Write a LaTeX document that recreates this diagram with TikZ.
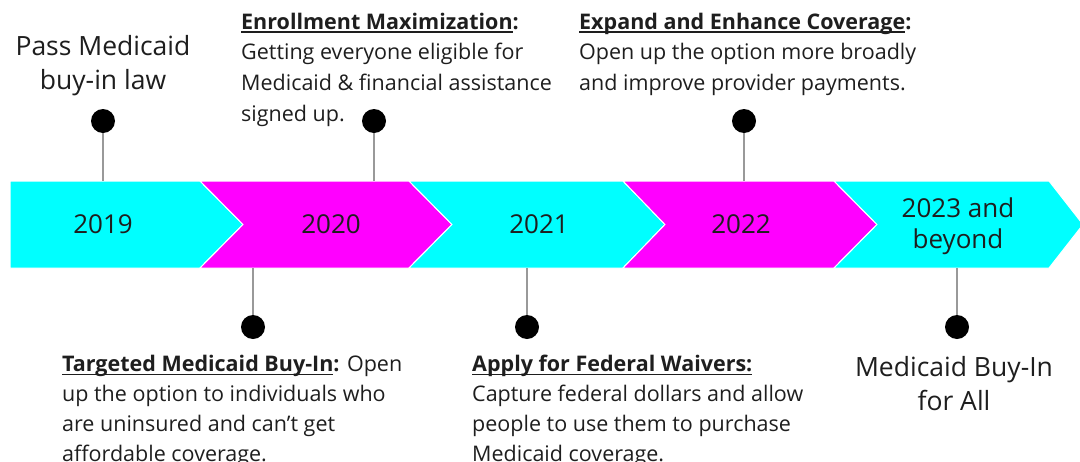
\documentclass[tikz,border=0pt]{standalone}
\usepackage{fontspec}
\setmainfont{Open Sans}
\definecolor{cy}{HTML}{00FFFF}
\definecolor{mg}{HTML}{FF00FF}
\definecolor{txt}{HTML}{1E1E1E}
\newcommand\myul[1]{\setbox0\hbox{#1}\rlap{\rule[-3.5pt]{\wd0}{1.5pt}}\box0}
\tikzset{
  seg/.style={draw=white, line width=1pt, line join=miter},
  dot/.style={circle, fill=black, minimum size=24pt, inner sep=0pt},
  stem/.style={draw=black!40, line width=1.2pt},
  year/.style={font=\fontsize{26}{31}\selectfont, text=txt, align=center, inner sep=0pt},
  big/.style={font=\fontsize{26.5}{34}\selectfont, text=txt, align=center, inner sep=0pt},
  desc/.style={font=\fontsize{21.5}{30.8}\selectfont, text=txt, align=left, inner sep=0pt, anchor=north west},
  descb/.style={desc, font=\fontsize{21.5}{30}\selectfont},
}
\begin{document}
\begin{tikzpicture}[x=1pt,y=-1pt]
\useasboundingbox (0,0) rectangle (1080,461);
\clip (0,0) rectangle (1080,461);
% band
\fill[cy, seg] (10,181) -- (200,181) -- (243,224.5) -- (200,268) -- (10,268) -- cycle;
\fill[mg, seg] (200,181) -- (409,181) -- (452,224.5) -- (409,268) -- (200,268) -- (243,224.5) -- cycle;
\fill[cy, seg] (409,181) -- (623,181) -- (665,224.5) -- (623,268) -- (409,268) -- (452,224.5) -- cycle;
\fill[mg, seg] (623,181) -- (834,181) -- (877,224.5) -- (834,268) -- (623,268) -- (665,224.5) -- cycle;
\fill[cy, seg] (834,181) -- (1049,181) -- (1083,224.5) -- (1049,268) -- (834,268) -- (877,224.5) -- cycle;
% years
\node[year] (y19) at (103,224.5) {2019};
\node[year] (y20) at (331,224.5) {2020};
\node[year] (y21) at (539,224.5) {2021};
\node[year] (y22) at (741,224.5) {2022};
\node[year] (y23) at (958,226) {2023 and\\beyond};
% attachment points on band
\coordinate (t1) at (103,181);
\coordinate (t2) at (374,181);
\coordinate (t3) at (744,181);
\coordinate (b1) at (253,268);
\coordinate (b2) at (527,268);
\coordinate (b3) at (957,268);
% dots
\node[dot] (d1) at (103,121) {};
\node[dot] (d2) at (374,121) {};
\node[dot] (d3) at (744,121) {};
\node[dot] (d4) at (253,327) {};
\node[dot] (d5) at (527,327) {};
\node[dot] (d6) at (957,327) {};
\draw[stem] (d1) -- (t1);
\draw[stem] (d2) -- (t2);
\draw[stem] (d3) -- (t3);
\draw[stem] (d4) -- (b1);
\draw[stem] (d5) -- (b2);
\draw[stem] (d6) -- (b3);
% labels
\node[big] (l1) at (103,66) {Pass Medicaid\\buy-in law};
\node[big] (l6) at (954,384) {Medicaid Buy-In\\for All};
\node[desc] (l2) at (241,12.5) {\textbf{\myul{Enrollment Maximization}:}\\Getting everyone eligible for\\Medicaid \& financial assistance\\signed up.};
\node[desc] (l3) at (579,12.5) {\textbf{\myul{Expand and Enhance Coverage}:}\\Open up the option more broadly\\and improve provider payments.};
\node[descb] (l4) at (62,355) {\textbf{\myul{Targeted Medicaid Buy-In}:} Open\\up the option to individuals who\\are uninsured and can’t get\\affordable coverage.};
\node[descb] (l5) at (472,355) {\textbf{\myul{Apply for Federal Waivers:}}\\Capture federal dollars and allow\\people to use them to purchase\\Medicaid coverage.};
\end{tikzpicture}
\end{document}
